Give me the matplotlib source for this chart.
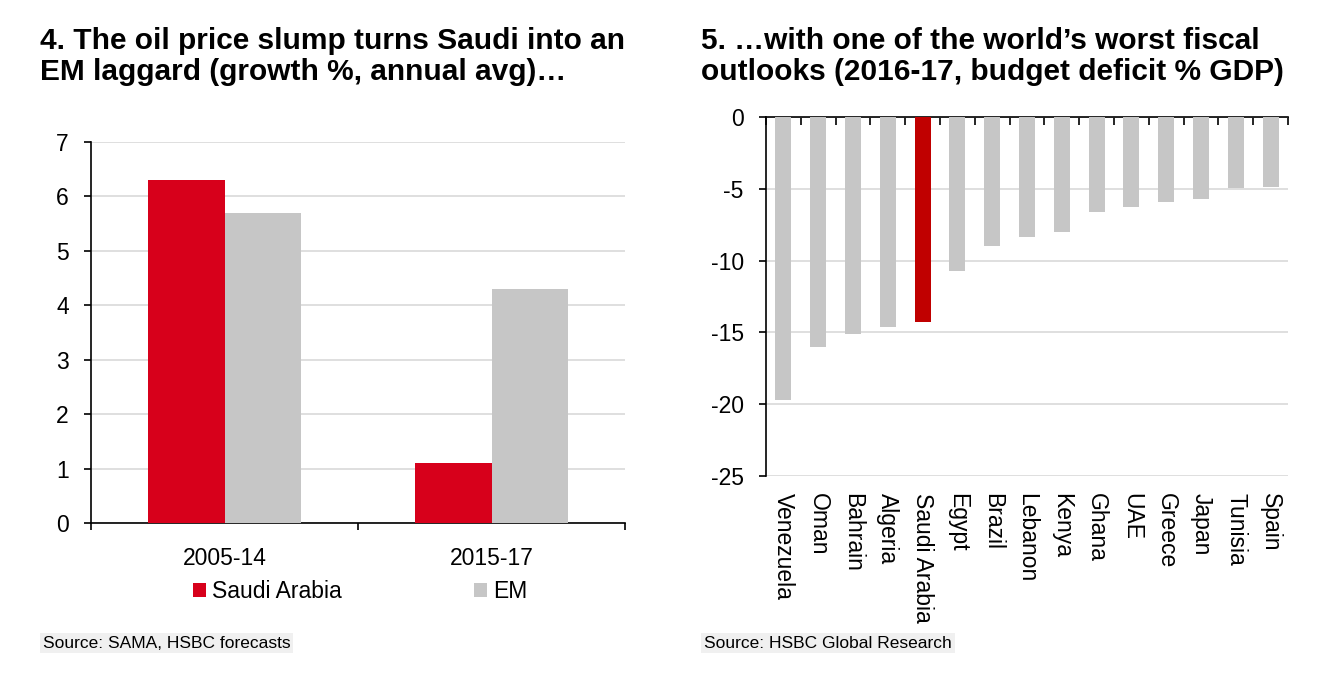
import numpy as np
import matplotlib
matplotlib.use('Agg')
from matplotlib import pyplot as plt

# data
periods = ['2005-14', '2015-17']
saudi_growth = [6.3, 1.1]
em_growth = [5.7, 4.3]

countries = ['Venezuela', 'Oman', 'Bahrain', 'Algeria', 'Saudi Arabia', 'Egypt', 'Brazil',
             'Lebanon', 'Kenya', 'Ghana', 'UAE', 'Greece', 'Japan', 'Tunisia', 'Spain']
deficit = [-19.7, -16.0, -15.1, -14.6, -14.3, -10.7, -9.0, -8.35, -8.0, -6.6, -6.3, -5.95, -5.7, -4.95, -4.9]

RED = '#d7001b'
RED2 = '#c00000'
GREY = '#c6c6c6'
GRID = '#dcdcdc'
NARROW = ['Liberation Sans Narrow', 'Liberation Sans', 'DejaVu Sans']
BOLD = ['Liberation Sans', 'DejaVu Sans']
FS = 16.5

plt.rcParams['axes.unicode_minus'] = False
plt.rcParams['font.family'] = NARROW

W, H = 1327, 674
fig = plt.figure(figsize=(W / 100, H / 100), dpi=100)

def fx(px):
    return px / W

def fy(py):
    return 1 - py / H

# ---- left chart
ax1 = fig.add_axes([fx(91), fy(523), fx(625 - 91), (523 - 142) / H])
x = np.arange(len(periods))
bw = 0.285
b1 = ax1.bar(x - bw / 2, saudi_growth, bw, color=RED, label='Saudi Arabia', zorder=3)
b2 = ax1.bar(x + bw / 2, em_growth, bw, color=GREY, label='EM', zorder=3)
ax1.set_xlim(-0.5, 1.5)
ax1.set_ylim(0, 7)
ax1.set_yticks(range(8))
ax1.yaxis.grid(True, color=GRID, lw=1.3, zorder=0)
ax1.set_xticks(x)
ax1.set_xticklabels(periods)
ax1.set_xticks([-0.5, 0.5, 1.5], minor=True)
ax1.tick_params(axis='x', which='major', length=0, pad=17, labelsize=FS)
ax1.tick_params(axis='x', which='minor', length=5, width=1.2, direction='out')
ax1.tick_params(axis='y', length=5, width=1.2, pad=11, labelsize=FS)
for s in ['top', 'right']:
    ax1.spines[s].set_visible(False)
for s in ['left', 'bottom']:
    ax1.spines[s].set_linewidth(1.2)

fig.legend(handles=[b1, b2], loc='center', bbox_to_anchor=(fx(360), fy(592)), ncol=2,
           frameon=False, fontsize=FS, handlelength=0.6, handleheight=0.55,
           handletextpad=0.25, columnspacing=5.75)

# ---- right chart
ax2 = fig.add_axes([fx(766), fy(476), fx(1288 - 766), (476 - 117) / H])
xc = np.arange(len(countries))
cols = [RED2 if c == 'Saudi Arabia' else GREY for c in countries]
ax2.bar(xc, deficit, 0.46, color=cols, zorder=3)
ax2.set_xlim(-0.5, len(countries) - 0.5)
ax2.set_ylim(-25, 0)
ax2.set_yticks(range(-25, 1, 5))
ax2.yaxis.grid(True, color=GRID, lw=1.3, zorder=0)
ax2.set_xticks(xc)
ax2.set_xticklabels(countries, rotation=270)
ax2.set_xticks(np.arange(-0.5, len(countries), 1.0), minor=True)
ax2.tick_params(axis='x', which='major', length=0, pad=12, labelsize=FS)
ax2.tick_params(axis='x', which='minor', bottom=False, top=True, direction='in', length=6, width=1.2)
ax2.tick_params(axis='y', length=5, width=1.2, pad=11, labelsize=FS)
ax2.spines['right'].set_visible(False)
ax2.spines['bottom'].set_visible(False)
ax2.spines['left'].set_linewidth(1.2)
ax2.spines['top'].set_linewidth(1.2)

# ---- titles and sources
fig.text(fx(40), fy(27), '4. The oil price slump turns Saudi into an\nEM laggard (growth %, annual avg)\u2026',
         family=BOLD, weight='bold', fontsize=21.5, va='top', ha='left', linespacing=1.15)
fig.text(fx(701), fy(27), '5. \u2026with one of the world\u2019s worst fiscal\noutlooks (2016-17, budget deficit % GDP)',
         family=BOLD, weight='bold', fontsize=21.5, va='top', ha='left', linespacing=1.15)

src = dict(facecolor='#f0f0f0', edgecolor='none', pad=2)
fig.text(fx(43), fy(643), 'Source: SAMA, HSBC forecasts', fontsize=12.5, va='center', ha='left', bbox=src)
fig.text(fx(704), fy(643), 'Source: HSBC Global Research', fontsize=12.5, va='center', ha='left', bbox=src)

fig.savefig('out.png', dpi=100)
